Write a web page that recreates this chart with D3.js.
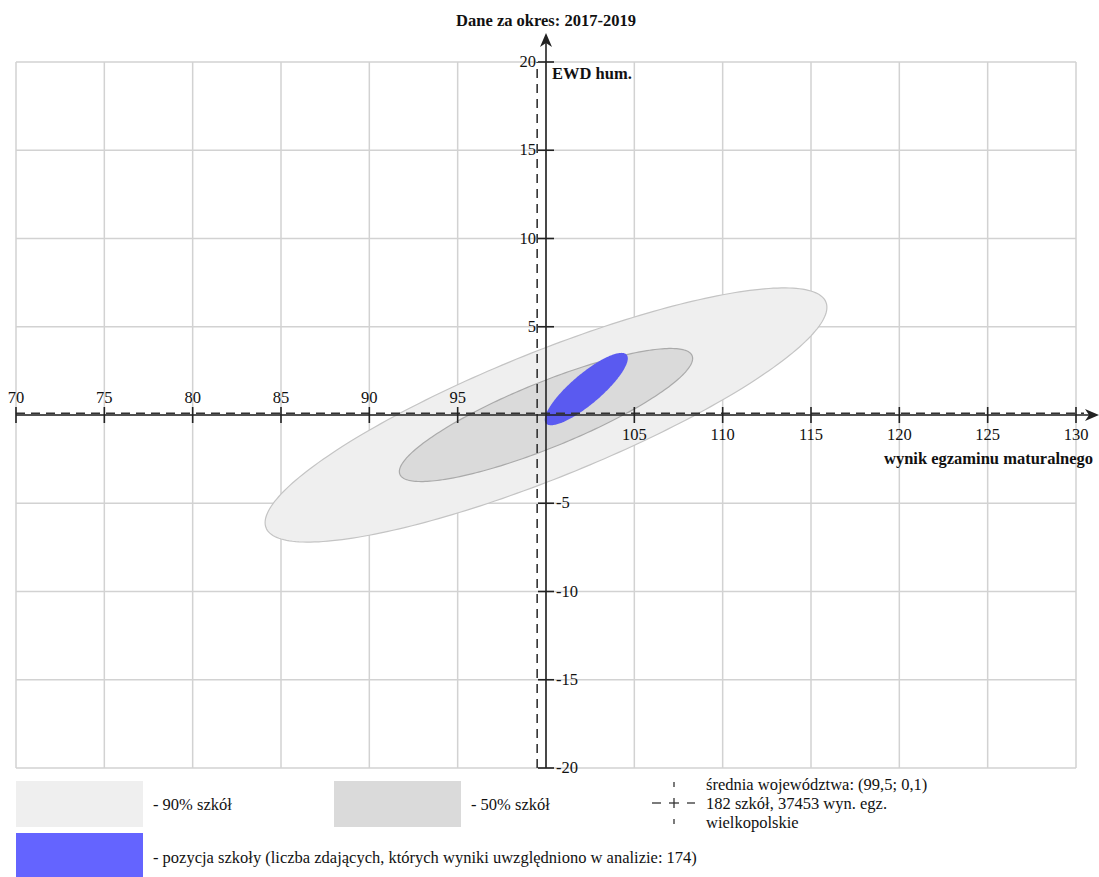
<!DOCTYPE html>
<html><head><meta charset="utf-8">
<script src="https://cdn.jsdelivr.net/npm/d3@7"></script>
<style>
html,body{margin:0;padding:0;background:#fff;}
text{font-family:"Liberation Serif","Times New Roman",serif;fill:#111;}
</style></head>
<body>
<svg id="chart" width="1099" height="877"></svg>
<script>
// ---- data ----
const xTicks = [70,75,80,85,90,95,100,105,110,115,120,125,130];
const yTicks = [-20,-15,-10,-5,0,5,10,15,20];
const ellipseNames = ["90% szkół","50% szkół","pozycja szkoły"];
const ellipseCx = [100.0, 100.0, 102.28];
const ellipseCy = [0.0, 0.0, 1.47];
const ellipseSx = [15.9, 8.3, 2.35];
const ellipseSy = [7.2, 3.77, 2.05];
const ellipseR  = [0.847, 0.85, 0.847];
const meanPoint = [99.5, 0.1];
const titleText = "Dane za okres: 2017-2019";
const yTitle = "EWD hum.";
const xTitle = "wynik egzaminu maturalnego";
const legendMean = ["średnia województwa: (99,5; 0,1)","182 szkół, 37453 wyn. egz.","wielkopolskie"];
const legendSchool = "- pozycja szkoły (liczba zdających, których wyniki uwzględniono w analizie: 174)";

// ---- scales ----
const FS = 16.5;
const svg = d3.select("#chart");
const x = d3.scaleLinear().domain([70,130]).range([16,1076]);
const y = d3.scaleLinear().domain([-20,20]).range([768,62]);
const fills = ["#efefef","#dadada","#5a5af0"];
const strokes = ["#c4c4c4","#aaaaaa","none"];

// grid
const g = svg.append("g");
g.selectAll("line.gx").data(xTicks).join("line")
  .attr("x1",d=>x(d)).attr("x2",d=>x(d)).attr("y1",y(20)).attr("y2",y(-20))
  .attr("stroke","#d2d2d2").attr("stroke-width",1.5);
g.selectAll("line.gy").data(yTicks).join("line")
  .attr("y1",d=>y(d)).attr("y2",d=>y(d)).attr("x1",x(70)).attr("x2",x(130))
  .attr("stroke","#d2d2d2").attr("stroke-width",1.5);

// ellipses
const angles = d3.range(0, 2*Math.PI, Math.PI/120);
const line = d3.line().curve(d3.curveLinearClosed);
ellipseNames.forEach((n,i)=>{
  const pts = angles.map(t=>{
    const dx = ellipseSx[i]*Math.cos(t);
    const dy = ellipseSy[i]*(ellipseR[i]*Math.cos(t)+Math.sqrt(1-ellipseR[i]*ellipseR[i])*Math.sin(t));
    return [x(ellipseCx[i]+dx), y(ellipseCy[i]+dy)];
  });
  svg.append("path").attr("d",line(pts)).attr("fill",fills[i])
    .attr("stroke",strokes[i]).attr("stroke-width",1.2);
});

// mean dashed lines
svg.append("line").attr("x1",x(meanPoint[0])).attr("x2",x(meanPoint[0]))
  .attr("y1",y(-20)).attr("y2",y(20)).attr("stroke","#333").attr("stroke-width",1.6)
  .attr("stroke-dasharray","9,6");
svg.append("line").attr("y1",y(meanPoint[1])).attr("y2",y(meanPoint[1]))
  .attr("x1",x(70)).attr("x2",x(130)+8).attr("stroke","#333").attr("stroke-width",1.6)
  .attr("stroke-dasharray","9,6");

// axes
const ax = "#222";
svg.append("line").attr("x1",x(70)).attr("x2",1094).attr("y1",y(0)).attr("y2",y(0))
  .attr("stroke",ax).attr("stroke-width",1.6);
svg.append("path").attr("d",`M1099,${y(0)} L1085,${y(0)-6} L1089,${y(0)} L1085,${y(0)+6} Z`).attr("fill",ax);
svg.append("line").attr("x1",x(100)).attr("x2",x(100)).attr("y1",y(-20)).attr("y2",38)
  .attr("stroke",ax).attr("stroke-width",1.6);
svg.append("path").attr("d",`M${x(100)},33 L${x(100)-6},47 L${x(100)},43 L${x(100)+6},47 Z`).attr("fill",ax);

// x ticks
svg.selectAll("line.xt").data(xTicks.filter(d=>d!==100)).join("line")
  .attr("x1",d=>x(d)).attr("x2",d=>x(d)).attr("y1",y(0)-8).attr("y2",y(0)+8)
  .attr("stroke",ax).attr("stroke-width",1.6);
svg.selectAll("text.xl").data(xTicks.filter(d=>d!==100)).join("text")
  .attr("x",d=>x(d)).attr("y",d=>d<100?y(0)-12:y(0)+25)
  .attr("text-anchor","middle").attr("font-size",FS).text(d=>d);
// y ticks
svg.selectAll("line.yt").data(yTicks.filter(d=>d!==0)).join("line")
  .attr("x1",x(100)-8).attr("x2",x(100)+8).attr("y1",d=>y(d)).attr("y2",d=>y(d))
  .attr("stroke",ax).attr("stroke-width",1.6);
svg.selectAll("text.yl").data(yTicks.filter(d=>d!==0)).join("text")
  .attr("x",d=>d>0?x(100)-10:x(100)+10).attr("y",d=>y(d)+5)
  .attr("text-anchor",d=>d>0?"end":"start").attr("font-size",FS).text(d=>d);

// titles
svg.append("text").attr("x",x(100)).attr("y",26).attr("text-anchor","middle")
  .attr("font-size",FS).attr("font-weight","bold").text(titleText);
svg.append("text").attr("x",x(100)+6).attr("y",79)
  .attr("font-size",FS).attr("font-weight","bold").text(yTitle);
svg.append("text").attr("x",1093).attr("y",464).attr("text-anchor","end")
  .attr("font-size",FS).attr("font-weight","bold").text(xTitle);

// legend
const lg = svg.append("g");
lg.append("rect").attr("x",16).attr("y",781).attr("width",127).attr("height",46).attr("fill","#efefef");
lg.append("text").attr("x",153).attr("y",809.5).attr("font-size",FS).text("- " + ellipseNames[0]);
lg.append("rect").attr("x",334).attr("y",781).attr("width",127).attr("height",46).attr("fill","#dadada");
lg.append("text").attr("x",471).attr("y",809.5).attr("font-size",FS).text("- " + ellipseNames[1]);
lg.append("rect").attr("x",16).attr("y",833).attr("width",127).attr("height",44).attr("fill","#6464ff");
lg.append("text").attr("x",153).attr("y",862.5).attr("font-size",FS).text(legendSchool);
// mean symbol
const mc = [674, 803];
const segs = [[0,-21,0,-16],[0,16,0,21],[-22,0,-13,0],[13,0,21,0],[-5,0,5,0],[0,-5,0,5]];
lg.selectAll("line.ms").data(segs).join("line")
  .attr("x1",d=>mc[0]+d[0]).attr("y1",d=>mc[1]+d[1]).attr("x2",d=>mc[0]+d[2]).attr("y2",d=>mc[1]+d[3])
  .attr("stroke","#333").attr("stroke-width",1.3);
legendMean.forEach((t,i)=>{
  lg.append("text").attr("x",706).attr("y",790+i*19).attr("font-size",FS).text(t);
});
</script>
</body></html>
